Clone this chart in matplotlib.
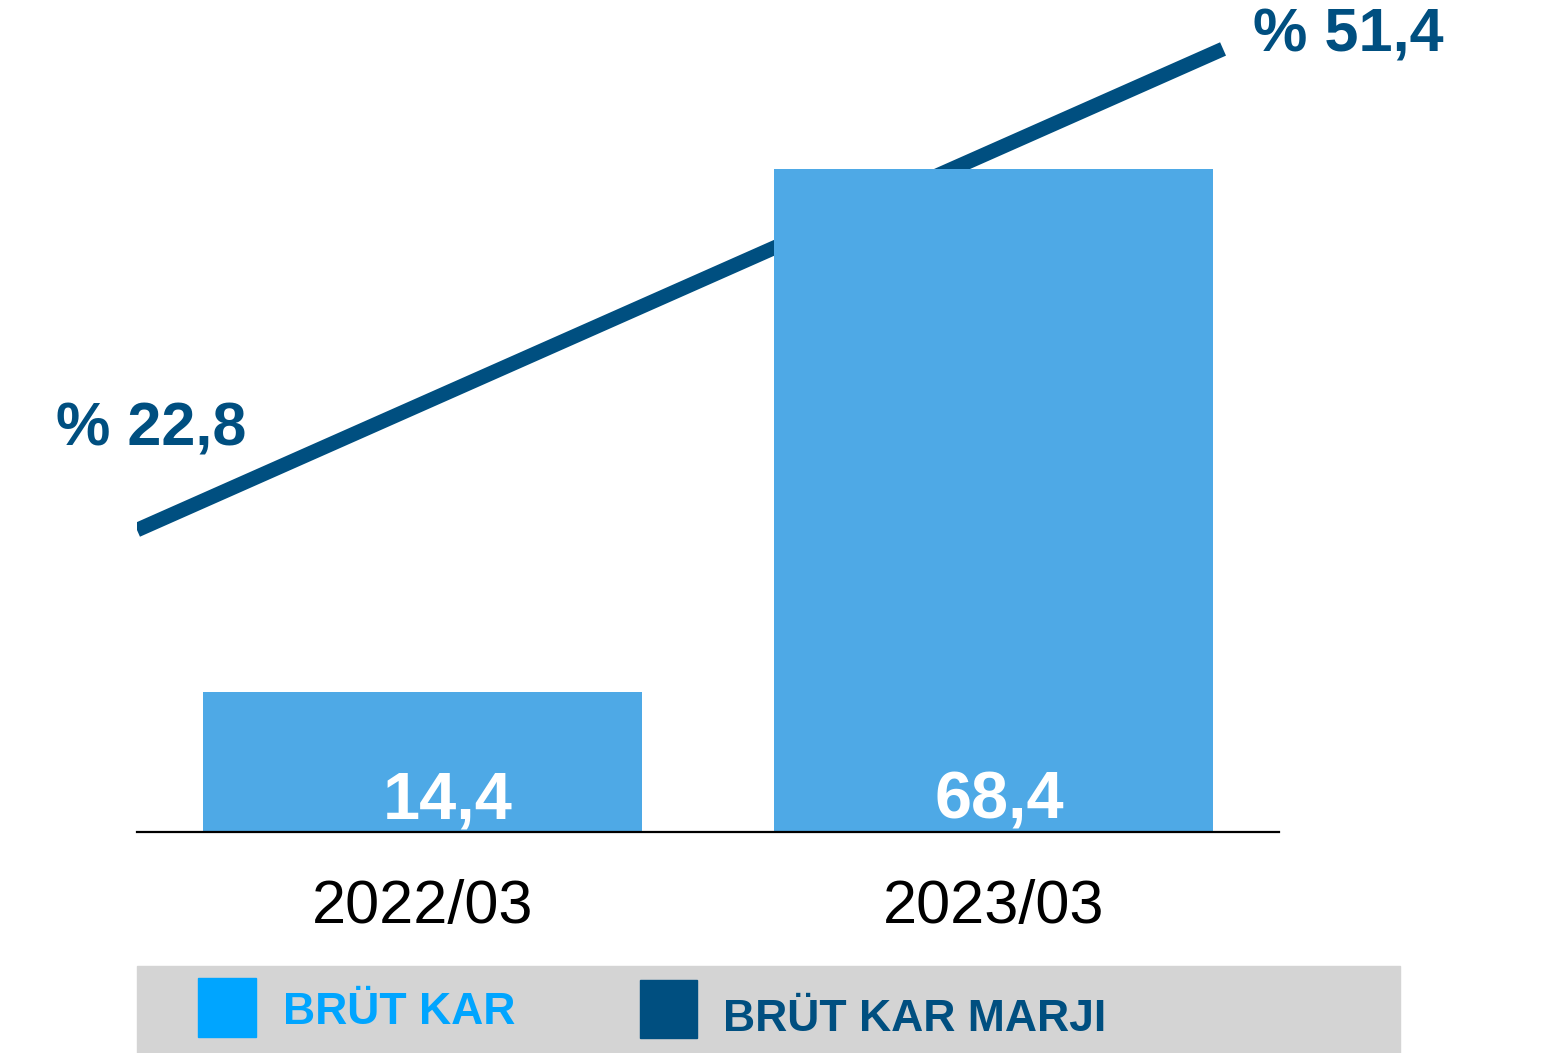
import matplotlib
matplotlib.use('Agg')
import matplotlib.pyplot as plt
from matplotlib.patches import Rectangle

plt.rcParams['font.family'] = ['Liberation Sans', 'DejaVu Sans']

# data
periods = ['2022/03', '2023/03']
gross_profit = [14.4, 68.4]          # BRÜT KAR
gross_margin = [22.8, 51.4]          # BRÜT KAR MARJI (%)
bar_labels = ['14,4', '68,4']
margin_labels = ['% 22,8', '% 51,4']
legend_labels = ['BRÜT KAR', 'BRÜT KAR MARJI']

bar_color = '#4EA9E6'
line_color = '#004F80'
legend_light = '#00A5FF'
legend_gray = '#D4D4D4'

fig = plt.figure(figsize=(15.53, 10.53), dpi=100)
rect = [137 / 1553, 221 / 1053, 1142 / 1553, 832 / 1053]
x = list(range(len(periods)))

# margin line first, so the bars sit on top of it
ax2 = fig.add_axes(rect)
ax2.set_xlim(0, 1 / 0.951)
ax2.set_ylim(4.85, 54.31)
ax2.plot(x, gross_margin, color=line_color, linewidth=10.5,
         solid_capstyle='butt')
offsets = [(10, 72), (90, 9)]
for xi, v, lab, off in zip(x, gross_margin, margin_labels, offsets):
    ax2.annotate(lab, (xi, v), xytext=off, textcoords='offset points',
                 ha='center', va='center', fontsize=44, fontweight='bold',
                 color=line_color, annotation_clip=False)
ax2.axis('off')

ax = fig.add_axes(rect)
ax.bar(x, gross_profit, width=0.768, color=bar_color, zorder=2)
ax.set_xlim(-0.5, 1.5)
ax.set_ylim(0, 85.8)

# value labels inside the bars
label_shift = [18, 4]
for xi, lab, dx in zip(x, bar_labels, label_shift):
    ax.annotate(lab, (xi, 1.35), xytext=(dx, 0), textcoords='offset points',
                ha='center', va='baseline', fontsize=48, fontweight='bold',
                color='white', zorder=3)

ax.set_xticks(x)
ax.set_xticklabels(periods, fontsize=44)
ax.tick_params(axis='x', length=0, pad=34)
ax.set_yticks([])
for s in ['top', 'right', 'left']:
    ax.spines[s].set_visible(False)
ax.spines['bottom'].set_linewidth(1.6)
ax.patch.set_alpha(0)

# legend band
fig.patches.append(Rectangle((137 / 1553, 0), 1263 / 1553, 87 / 1053,
                             transform=fig.transFigure, color=legend_gray, zorder=0))
fig.patches.append(Rectangle((198 / 1553, 16 / 1053), 58 / 1553, 59 / 1053,
                             transform=fig.transFigure, color=legend_light, zorder=1))
fig.patches.append(Rectangle((640 / 1553, 15 / 1053), 57 / 1553, 58 / 1053,
                             transform=fig.transFigure, color=line_color, zorder=1))
fig.text(283 / 1553, 29 / 1053, legend_labels[0], fontsize=32, fontweight='bold',
         color=legend_light, va='baseline', ha='left')
fig.text(723 / 1553, 22 / 1053, legend_labels[1], fontsize=32, fontweight='bold',
         color=line_color, va='baseline', ha='left')

fig.savefig('out.png', dpi=100)
